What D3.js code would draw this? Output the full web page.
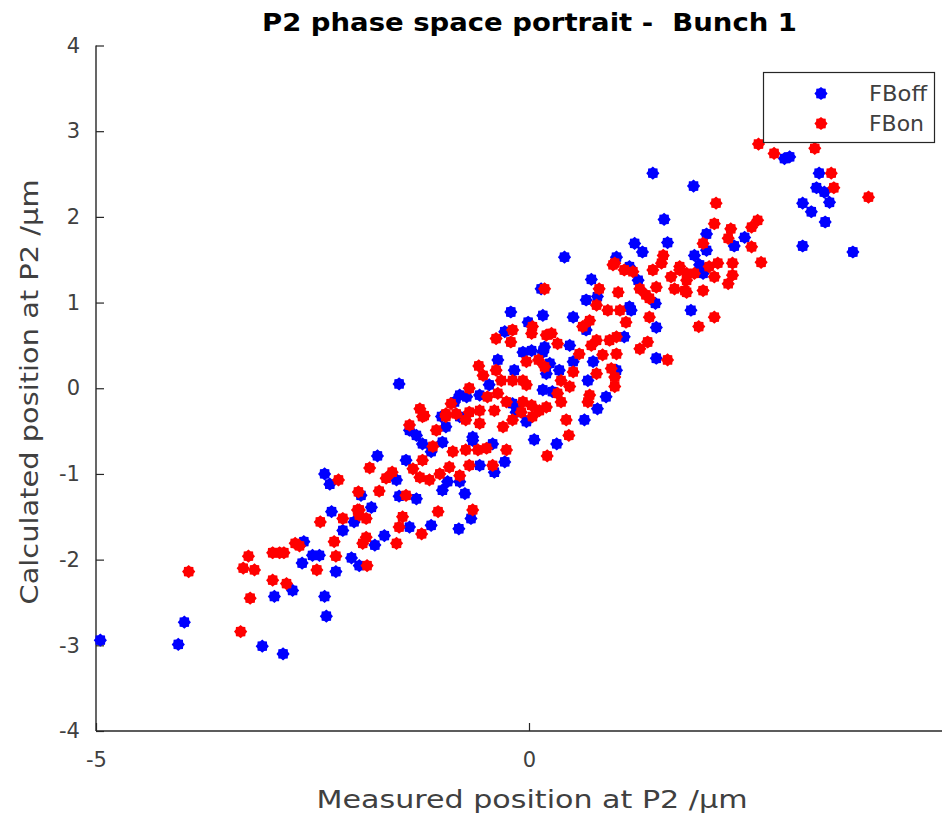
<!DOCTYPE html>
<html>
<head>
<meta charset="utf-8">
<script src="https://cdn.jsdelivr.net/npm/d3@7"></script>
<style>
  html, body { margin: 0; padding: 0; background: #fff; }
  svg { display: block; }
  text { font-family: "DejaVu Sans", "Liberation Sans", Arial, sans-serif; white-space: pre; }
</style>
</head>
<body>
<svg id="chart" width="942" height="819"></svg>
<script>
const title = "P2 phase space portrait -  Bunch 1";
const xLabel = "Measured position at P2 /\u03BCm";
const yLabel = "Calculated position at P2 /\u03BCm";
const seriesNames = ["FBoff", "FBon"];
const seriesColors = ["#0000ff", "#ff0000"];
const xTicks = [-5, 0];
const yTicks = [-4, -3, -2, -1, 0, 1, 2, 3, 4];

const fbOffX = [-4.95,-3.98,-4.05,-3.08,-2.84,-2.94,-2.73,-2.60,-2.50,-2.42,-2.62,-2.36,-2.34,-2.23,-2.05,-1.96,-2.15,-2.28,-1.82,-1.78,-2.02,
 -1.75,-2.36,-2.30,-1.50,-1.30,-1.67,-1.38,-1.13,-0.81,-0.67,-0.74,-0.94,-1.00,-0.80,-1.30,-1.38,-1.23,-1.13,-1.00,-0.96,-0.65,-1.42,-1.53,-1.94,
 -1.50,-0.21,0.16,-0.01,-0.28,0.03,-0.07,0.16,-0.36,-0.17,-0.46,0.16,-0.80,-0.72,-0.86,-0.57,-0.13,-0.19,0.20,0.14,-1.01,-0.80,
 0.41,1.22,1.31,1.60,2.05,1.91,2.01,1.01,1.16,0.72,0.66,0.51,0.79,1.18,1.26,1.46,1.87,1.47,1.47,0.47,0.35,0.66,1.10,0.18,0.24,0.74,0.51,0.68,0.27,0.89,1.01,
 0.06,0.32,0.64,0.79,-0.28,-0.40,-0.57,-0.42,-0.65,-0.15,-0.03,
 1.43,1.90,1.56,2.95,3.01,3.35,3.32,3.41,3.47,3.16,3.26,3.42,3.16,3.74,2.49,2.37,2.05,1.97,1.16];
const fbOffY = [-2.94,-2.73,-2.99,-3.01,-3.10,-2.43,-2.36,-1.79,-1.95,-1.95,-2.04,-2.43,-2.66,-2.14,-1.98,-2.07,-1.66,-1.44,-1.39,-1.83,-1.56,
 -0.79,-1.00,-1.12,-1.26,-1.29,-1.72,-1.62,-1.60,-1.64,-1.52,-1.23,-1.09,-1.19,-1.09,-0.55,-0.49,-0.65,-0.74,-0.63,-0.45,-0.57,-0.84,-1.07,-1.25,
 0.05,0.89,0.85,0.77,0.66,0.44,0.42,0.42,0.33,0.21,0.04,-0.02,-0.08,-0.10,-0.16,-0.08,-0.26,-0.18,0.17,1.16,-0.33,-0.33,
 1.53,1.69,1.59,1.70,1.80,1.55,1.34,1.53,1.42,1.27,1.03,0.83,1.07,0.91,1.26,0.99,0.91,0.71,0.35,0.50,0.21,0.68,0.60,0.48,0.29,0.31,0.31,0.09,-0.04,-0.10,0.21,
 -0.60,-0.65,-0.37,-0.24,-0.86,-0.98,-0.90,-0.65,-0.61,-0.28,-0.39,
 2.51,2.36,1.97,2.68,2.70,2.51,2.34,2.29,2.17,2.16,2.06,1.94,1.66,1.59,1.76,1.66,1.61,1.44,0.95];

const fbOnX = [-3.93,-3.33,-3.22,-3.24,-3.30,-3.17,-2.96,-2.80,-2.96,-2.88,-2.83,-2.70,-2.65,-2.41,-2.25,-2.23,-2.45,-2.15,-1.96,-1.88,-1.96,-1.88,-1.92,-1.87,
 -1.38,-1.21,-1.07,-0.96,-0.84,-0.73,-1.84,-2.20,-1.97,-1.73,-1.58,-1.65,-1.42,-1.34,-1.23,-1.11,-1.03,-0.92,-0.80,-0.69,-0.73,-0.88,-1.26,-1.15,-1.05,-0.65,-1.98,-1.46,-1.50,-1.24,-1.53,
 0.18,-0.19,-0.38,-0.21,0.04,0.03,0.20,-0.03,0.11,-0.58,-0.53,-0.38,-0.32,-0.19,-0.07,-0.03,-0.69,-0.48,-0.36,-0.26,-0.40,-0.57,-0.69,-0.90,-1.26,-1.23,-0.96,0.03,0.12,0.04,0.20,-0.07,
 2.01,1.55,1.53,1.43,1.20,0.99,1.10,0.81,1.03,1.28,1.35,1.47,1.64,1.74,1.82,1.91,2.01,1.68,1.82,1.96,1.39,1.05,1.12,0.70,0.78,0.62,0.26,0.33,0.78,0.93,1.01,0.72,0.58,0.85,1.01,1.28,1.37,1.60,0.18,0.51,0.78,0.99,0.95,0.37,0.47,0.70,0.99,0.33,
 0.43,0.46,0.21,-0.26,-0.42,-0.59,-0.49,-0.19,-0.30,-0.57,-0.09,0.37,0.68,
 2.65,2.83,3.30,3.49,3.52,3.92,2.16,2.14,2.33,2.30,2.57,2.64,2.57,2.68,0.97,1.74,1.82,2.08,2.18,2.35,2.35,2.14,2.30,1.80,1.39,2.14,0.91];
const fbOnY = [-2.14,-2.84,-2.45,-1.96,-2.10,-2.12,-2.24,-2.28,-1.92,-1.92,-1.92,-1.81,-1.84,-1.56,-1.79,-1.96,-2.12,-1.52,-1.48,-1.52,-1.42,-1.74,-1.81,-2.07,
 -0.43,-0.32,-0.49,-0.33,-0.30,-0.37,-0.93,-1.07,-1.21,-1.20,-0.98,-1.05,-1.25,-0.94,-0.84,-0.68,-1.00,-0.92,-1.02,-0.90,-0.72,-0.74,-1.04,-1.07,-1.44,-1.42,-1.42,-1.50,-1.62,-1.70,-1.81,
 1.16,0.68,0.58,0.54,0.72,0.64,0.62,0.31,0.33,0.26,0.15,0.21,0.09,0.09,0.09,0.04,0.00,-0.10,-0.06,-0.16,-0.26,-0.26,-0.28,-0.18,-0.24,-0.33,-0.30,-0.20,-0.26,-0.33,-0.22,-0.16,
 1.69,1.55,1.46,1.38,1.36,1.46,1.38,1.16,1.12,1.16,1.09,1.18,1.30,1.38,1.26,1.34,1.14,1.16,1.12,0.72,0.83,0.91,0.77,0.79,0.97,0.72,0.64,0.52,0.56,0.56,0.60,0.50,0.40,0.39,0.40,0.46,0.54,0.33,0.25,0.19,0.17,0.13,0.23,0.09,0.02,-0.08,0.02,-0.06,
 -0.37,-0.55,-0.79,-0.72,-0.90,-0.72,-0.70,-0.37,-0.45,-0.41,-0.28,-0.16,-0.16,
 2.85,2.74,2.80,2.51,2.34,2.23,2.16,1.92,1.86,1.75,1.88,1.96,1.65,1.47,1.44,1.42,1.34,1.42,1.46,1.46,1.32,1.30,1.22,1.14,1.05,0.83,0.91];

const svg = d3.select("#chart");
const x = d3.scaleLinear().domain([-5, 5]).range([96, 962]);
const y = d3.scaleLinear().domain([-4, 4]).range([731, 45.5]);

const axisColor = "#262626";
const labelColor = "#404040";
const fontFam = "DejaVu Sans, Liberation Sans, Arial, sans-serif";
const fmt = d => (d < 0 ? "-" : "") + Math.abs(d);

function markerPath(rOut, rIn) {
  const pts = [];
  for (let i = 0; i < 16; i++) {
    pts.push([i * Math.PI / 8, i % 2 === 0 ? rOut : rIn]);
  }
  return d3.lineRadial().angle(d => d[0]).radius(d => d[1]).curve(d3.curveLinearClosed)(pts);
}
const mPath = markerPath(6.6, 5.3);

// axes
const yAxis = d3.axisLeft(y).tickValues(yTicks).tickSize(-8).tickPadding(16).tickFormat(fmt);
const gy = svg.append("g").attr("transform", "translate(96,0)").call(yAxis);
const xAxis = d3.axisBottom(x).tickValues(xTicks).tickSize(-8).tickPadding(21).tickFormat(fmt);
const gx = svg.append("g").attr("transform", "translate(0,731)").call(xAxis);
[gx, gy].forEach(g => {
  g.attr("font-size", 21).attr("font-family", fontFam);
  g.select(".domain").attr("stroke", axisColor).attr("stroke-width", 1.4);
  g.selectAll(".tick line").attr("stroke", axisColor).attr("stroke-width", 1.2);
  g.selectAll(".tick text").attr("fill", labelColor);
});
gx.select(".domain").attr("d", "M96,0H962");
gy.select(".domain").attr("d", "M0,731V45.5");

// data
const series = [
  fbOffX.map((v, i) => ({x: v, y: fbOffY[i]})),
  fbOnX.map((v, i) => ({x: v, y: fbOnY[i]}))
];
series.forEach((pts, si) => {
  svg.append("g").selectAll("path").data(pts).join("path")
    .attr("d", mPath)
    .attr("transform", d => `translate(${x(d.x)},${y(d.y)})`)
    .attr("fill", seriesColors[si]);
});

// title and labels
svg.append("text").attr("x", 529.5).attr("y", 31).attr("text-anchor", "middle")
  .attr("font-size", 24).attr("font-weight", "bold").attr("fill", "#000")
  .attr("textLength", 535).attr("lengthAdjust", "spacingAndGlyphs").text(title);
svg.append("text").attr("x", 532).attr("y", 808).attr("text-anchor", "middle")
  .attr("font-size", 25).attr("fill", labelColor)
  .attr("textLength", 431).attr("lengthAdjust", "spacingAndGlyphs").text(xLabel);
svg.append("text").attr("transform", "translate(38,392) rotate(-90)").attr("text-anchor", "middle")
  .attr("font-size", 25).attr("fill", labelColor)
  .attr("textLength", 425).attr("lengthAdjust", "spacingAndGlyphs").text(yLabel);

// legend
const lg = svg.append("g");
lg.append("rect").attr("x", 763.5).attr("y", 72.5).attr("width", 171).attr("height", 70)
  .attr("fill", "#fff").attr("stroke", axisColor).attr("stroke-width", 1.2);
const legendW = [58, 55];
seriesNames.forEach((n, i) => {
  const cy = 93.5 + i * 30;
  lg.append("path").attr("d", mPath).attr("transform", `translate(821,${cy})`).attr("fill", seriesColors[i]);
  lg.append("text").attr("x", 869).attr("y", cy + 7).attr("font-size", 21).attr("fill", labelColor)
    .attr("font-family", fontFam)
    .attr("textLength", legendW[i]).attr("lengthAdjust", "spacingAndGlyphs").text(n);
});
</script>
</body>
</html>
